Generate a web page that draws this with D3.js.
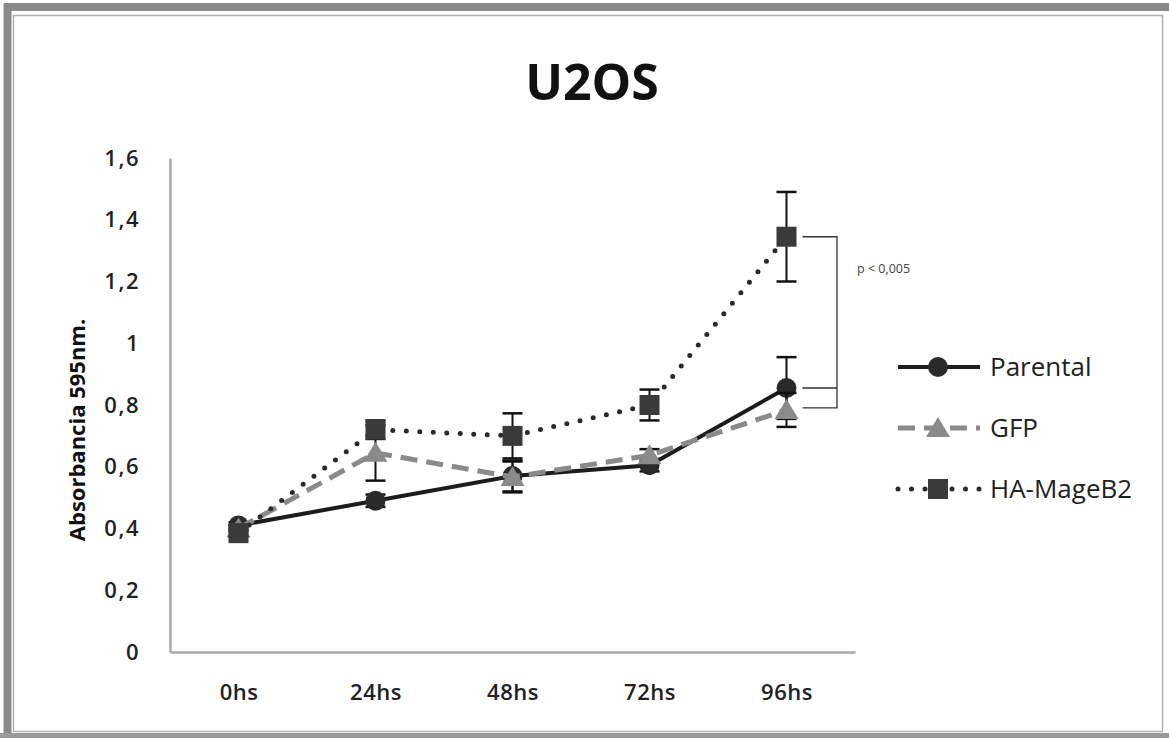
<!DOCTYPE html>
<html>
<head>
<meta charset="utf-8">
<script src="https://cdn.jsdelivr.net/npm/d3@7/dist/d3.min.js"></script>
<style>
  html, body { margin: 0; padding: 0; background: #fff; }
  svg { display: block; }
</style>
</head>
<body>
<svg id="chart" width="1169" height="738"></svg>
<script>
// Time points and absorbance readings (595 nm) for each cell line
const categories = ["0hs", "24hs", "48hs", "72hs", "96hs"];
const parental   = [0.41, 0.49, 0.57, 0.605, 0.855];
const gfp        = [0.40, 0.645, 0.567, 0.637, 0.784];
const hamageb2   = [0.385, 0.72, 0.70, 0.80, 1.345];
// Standard deviations (error bars)
const parentalErr = [0.01, 0.02, 0.05, 0.02, 0.10];
const gfpErr      = [0.01, 0.09, 0.05, 0.02, 0.055];
const hamageb2Err = [0.01, 0.03, 0.073, 0.05, 0.145];
const yTicks = [0, 0.2, 0.4, 0.6, 0.8, 1, 1.2, 1.4, 1.6];
const seriesNames = ["Parental", "GFP", "HA-MageB2"];

const svg = d3.select("#chart");
const font = "'Open Sans', 'Liberation Sans', sans-serif";

// Picture frame
svg.append("rect").attr("x", 7.5).attr("y", 7).attr("width", 1170).attr("height", 740)
  .attr("fill", "none").attr("stroke", "#8a8a8a").attr("stroke-width", 8);
svg.append("rect").attr("x", 13.5).attr("y", 15.5).attr("width", 1149).attr("height", 716)
  .attr("fill", "none").attr("stroke", "#b0b0b0").attr("stroke-width", 1.5);
svg.append("line").attr("x1", 0).attr("x2", 1169).attr("y1", 735.5).attr("y2", 735.5)
  .attr("stroke", "#9a9a9a").attr("stroke-width", 5);

const x = d3.scalePoint().domain(categories).range([170, 855]).padding(0.5);
const y = d3.scaleLinear().domain([0, 1.6]).range([652, 158]);

// Title
svg.append("text").attr("x", 592).attr("y", 100).attr("text-anchor", "middle")
  .attr("font-family", font).attr("font-weight", "bold").attr("font-size", 50)
  .attr("fill", "#111").text("U2OS");

// Axes
const yAxis = svg.append("g").attr("transform", "translate(170,0)")
  .call(d3.axisLeft(y).tickValues(yTicks).tickSize(0).tickPadding(30)
    .tickFormat(d => String(d).replace(".", ",")));
const xAxis = svg.append("g").attr("transform", "translate(0,652)")
  .call(d3.axisBottom(x).tickSize(0).tickPadding(32));
[yAxis, xAxis].forEach(g => {
  g.select(".domain").attr("stroke", "#a8a8a8").attr("stroke-width", 2.5);
  g.selectAll("text").attr("font-family", font).attr("font-size", 22)
    .attr("font-weight", 600).attr("fill", "#222");
});
yAxis.selectAll("text").attr("letter-spacing", 1.5);
xAxis.selectAll("text").attr("letter-spacing", 0.5);

// Y axis title
svg.append("text").attr("transform", "translate(85,430) rotate(-90)")
  .attr("text-anchor", "middle").attr("font-family", font).attr("font-weight", "bold")
  .attr("font-size", 22).attr("fill", "#111").text("Absorbancia 595nm.");

const styles = [
  { values: parental, err: parentalErr, color: "#1c1c1c", width: 4, dash: null, cap: "butt", marker: "circle", mcolor: "#2a2a2a" },
  { values: gfp, err: gfpErr, color: "#8a8a8a", width: 5, dash: "17,9", cap: "butt", marker: "triangle", mcolor: "#8a8a8a" },
  { values: hamageb2, err: hamageb2Err, color: "#2a2a2a", width: 5, dash: "0,13.5", cap: "round", marker: "square", mcolor: "#3a3a3a" }
];

const line = d3.line().x((d, i) => x(categories[i])).y(d => y(d));

function drawMarker(g, type, cx, cy, fill, s) {
  if (type === "circle") {
    g.append("circle").attr("cx", cx).attr("cy", cy).attr("r", 10 * s).attr("fill", fill);
  } else if (type === "triangle") {
    g.append("path").attr("d", `M${cx},${cy - 11 * s}L${cx + 12 * s},${cy + 9 * s}L${cx - 12 * s},${cy + 9 * s}Z`).attr("fill", fill);
  } else {
    g.append("rect").attr("x", cx - 10 * s).attr("y", cy - 10 * s).attr("width", 20 * s).attr("height", 20 * s).attr("fill", fill);
  }
}

styles.forEach(st => {
  const g = svg.append("g");
  // error bars
  st.values.forEach((v, i) => {
    const cx = x(categories[i]);
    const lo = y(v - st.err[i]), hi = y(v + st.err[i]);
    g.append("line").attr("x1", cx).attr("x2", cx).attr("y1", lo).attr("y2", hi)
      .attr("stroke", "#111").attr("stroke-width", 2);
    [lo, hi].forEach(yy => g.append("line").attr("x1", cx - 10).attr("x2", cx + 10)
      .attr("y1", yy).attr("y2", yy).attr("stroke", "#111").attr("stroke-width", 2.5));
  });
  g.append("path").datum(st.values).attr("d", line).attr("fill", "none")
    .attr("stroke", st.color).attr("stroke-width", st.width)
    .attr("stroke-dasharray", st.dash).attr("stroke-linecap", st.cap);
  st.values.forEach((v, i) => drawMarker(g, st.marker, x(categories[i]), y(v), st.mcolor, 1));
});

// Significance bracket between HA-MageB2 and the controls at 96hs
const bx0 = x("96hs") + 16, bx1 = 837;
const bTop = y(hamageb2[4]), bMid = y(parental[4]), bBot = y(gfp[4]) - 2;
const bracket = svg.append("g").attr("stroke", "#333").attr("stroke-width", 1.3).attr("fill", "none");
bracket.append("path").attr("d", `M${bx0},${bTop}H${bx1}V${bBot}H${bx0}`);
bracket.append("path").attr("d", `M${bx0},${bMid}H${bx1}`);
svg.append("text").attr("x", 857).attr("y", 273).attr("font-family", font)
  .attr("font-size", 12.5).attr("fill", "#444").text("p < 0,005");

// Legend
const legend = svg.append("g");
styles.forEach((st, i) => {
  const ly = 367 + i * 61;
  legend.append("line").attr("x1", 898).attr("x2", 980).attr("y1", ly).attr("y2", ly)
    .attr("stroke", st.color).attr("stroke-width", st.width)
    .attr("stroke-dasharray", st.dash).attr("stroke-linecap", st.cap);
  drawMarker(legend, st.marker, 938, ly, st.mcolor, 1);
  legend.append("text").attr("x", 990).attr("y", ly + 9).attr("font-family", font)
    .attr("font-size", 26).attr("fill", "#222").text(seriesNames[i]);
});
</script>
</body>
</html>
